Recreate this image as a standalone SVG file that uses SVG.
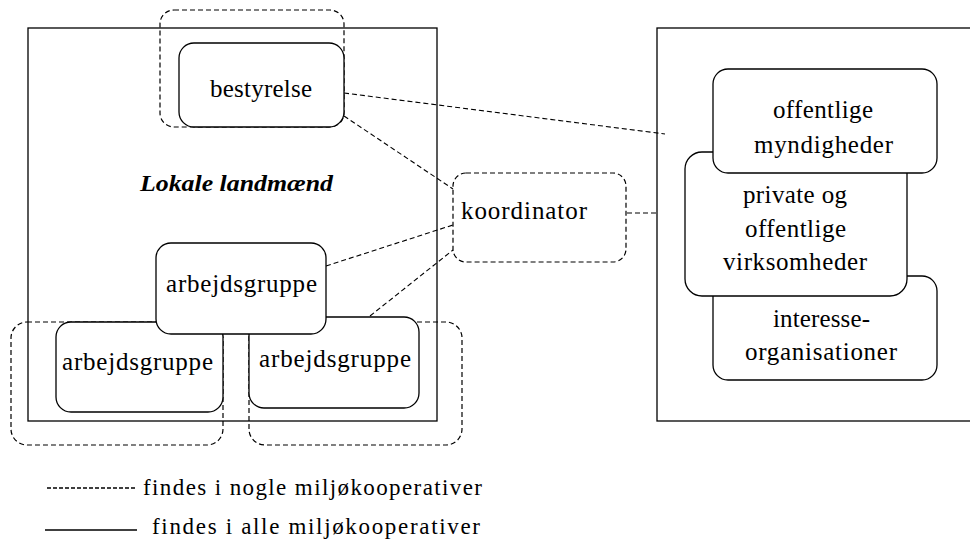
<svg xmlns="http://www.w3.org/2000/svg" width="970" height="555" viewBox="0 0 970 555">
<style>
.frame{fill:#fff;stroke:#000;stroke-width:1.3}
.box{fill:#fff;stroke:#000;stroke-width:1.3}
.dbox{fill:none;stroke:#000;stroke-width:1.2;stroke-dasharray:5 3}
.conn{fill:none;stroke:#000;stroke-width:1.1;stroke-dasharray:5 3}
text{font-family:"Times New Roman",Times,"Liberation Serif","DejaVu Serif","Noto Serif",serif;font-size:25px;fill:#000}
.title{font-weight:bold;font-style:italic;font-size:24px}
.leg{font-size:23px}
</style>
<rect width="970" height="555" fill="#fff"/>
<g id="lokale-frame"><rect class="frame" x="28" y="28" width="409" height="393"/>
<text class="title" x="140" y="191" textLength="193" lengthAdjust="spacingAndGlyphs">Lokale landmænd</text></g>
<g id="right-frame"><rect class="frame" x="657" y="28" width="320" height="393"/></g>
<g id="connectors">
<path class="conn" d="M344 93 L665 134"/>
<path class="conn" d="M344 116 L453 189"/>
<path class="conn" d="M326 266 L453 225"/>
<path class="conn" d="M370 316 L453 250"/>
<path class="conn" d="M627 213 L657 213"/>
</g>
<g id="dashed-outlines">
<rect class="dbox" x="160" y="10" width="184" height="117" rx="14"/>
<rect class="dbox" x="11" y="322" width="212" height="123" rx="16"/>
<rect class="dbox" x="249" y="322" width="213" height="123" rx="16"/>
</g>
<g id="bestyrelse"><rect class="box" x="179" y="43" width="165" height="84" rx="15"/>
<text x="210" y="97" textLength="102" lengthAdjust="spacing">bestyrelse</text></g>
<g id="koordinator"><rect class="dbox" x="453" y="173" width="173" height="89" rx="13"/>
<text x="461" y="219" textLength="126" lengthAdjust="spacing">koordinator</text></g>
<g id="arbejdsgruppe-left"><rect class="box" x="56" y="322" width="167" height="90" rx="15"/>
<text x="62" y="370" textLength="151" lengthAdjust="spacing">arbejdsgruppe</text></g>
<g id="arbejdsgruppe-right"><rect class="box" x="249" y="317" width="170" height="91" rx="15"/>
<text x="259" y="367" textLength="152" lengthAdjust="spacing">arbejdsgruppe</text></g>
<g id="arbejdsgruppe-center"><rect class="box" x="156" y="243" width="170" height="91" rx="15"/>
<text x="166" y="292" textLength="151" lengthAdjust="spacing">arbejdsgruppe</text></g>
<g id="interesseorganisationer"><rect class="box" x="713" y="276" width="224" height="104" rx="15"/>
<text x="773" y="327" textLength="97" lengthAdjust="spacing">interesse-</text>
<text x="745" y="360" textLength="152" lengthAdjust="spacing">organisationer</text></g>
<g id="virksomheder"><rect class="box" x="685" y="152" width="222" height="144" rx="17"/>
<text x="743" y="203" textLength="104" lengthAdjust="spacing">private og</text>
<text x="745" y="237" textLength="101" lengthAdjust="spacing">offentlige</text>
<text x="723" y="270" textLength="144" lengthAdjust="spacing">virksomheder</text></g>
<g id="myndigheder"><rect class="box" x="713" y="69" width="224" height="104" rx="15"/>
<text x="773" y="118" textLength="100" lengthAdjust="spacing">offentlige</text>
<text x="754" y="153" textLength="139" lengthAdjust="spacing">myndigheder</text></g>
<g id="legend">
<line x1="47" y1="488" x2="135" y2="488" stroke="#000" stroke-width="1.3" stroke-dasharray="4 2"/>
<text class="leg" x="143" y="495" textLength="339" lengthAdjust="spacing">findes i nogle miljøkooperativer</text>
<line x1="45" y1="530" x2="137" y2="530" stroke="#000" stroke-width="1.3"/>
<text class="leg" x="152" y="534" textLength="328" lengthAdjust="spacing">findes i alle miljøkooperativer</text>
</g>
</svg>
